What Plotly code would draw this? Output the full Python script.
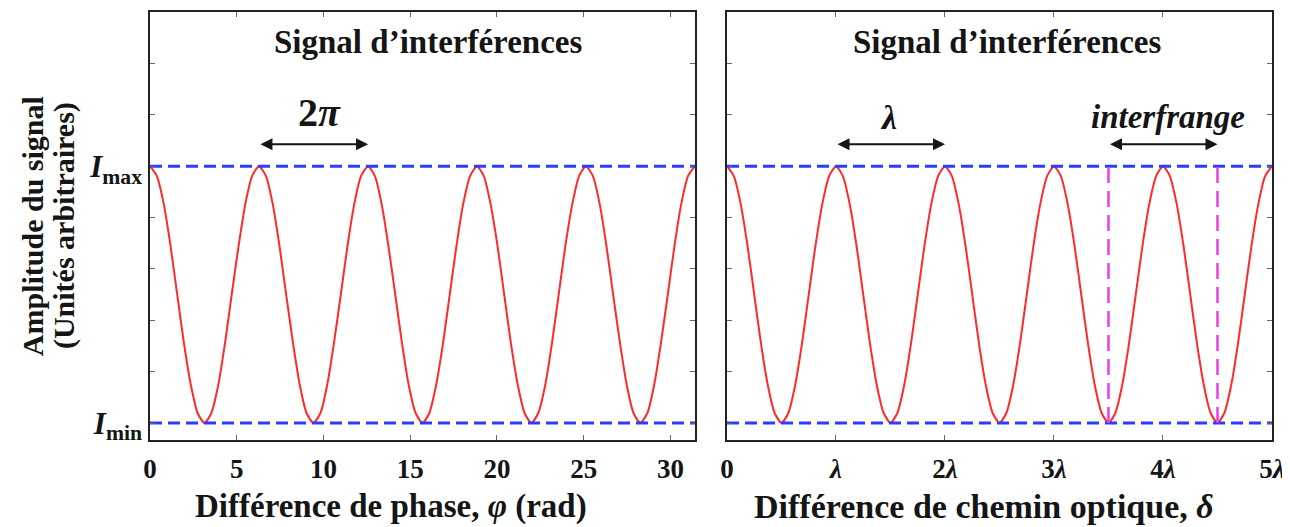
import plotly.graph_objects as go
from plotly.subplots import make_subplots

# --- data ---
phase_rad = [0.00, 0.39, 0.79, 1.18, 1.57, 1.96, 2.36, 2.75, 3.14, 3.53, 3.93, 4.32, 4.71, 5.11, 5.50, 5.89,
             6.28, 6.68, 7.07, 7.46, 7.85, 8.25, 8.64, 9.03, 9.42, 9.82, 10.21, 10.60, 11.00, 11.39, 11.78, 12.17,
             12.57, 12.96, 13.35, 13.74, 14.14, 14.53, 14.92, 15.32, 15.71, 16.10, 16.49, 16.89, 17.28, 17.67, 18.06, 18.46,
             18.85, 19.24, 19.63, 20.03, 20.42, 20.81, 21.21, 21.60, 21.99, 22.38, 22.78, 23.17, 23.56, 23.95, 24.35, 24.74,
             25.13, 25.53, 25.92, 26.31, 26.70, 27.10, 27.49, 27.88, 28.27, 28.67, 29.06, 29.45, 29.85, 30.24, 30.63, 31.02,
             31.42]
delta_lambda = [0.000, 0.062, 0.125, 0.188, 0.250, 0.312, 0.375, 0.438, 0.500, 0.562, 0.625, 0.688, 0.750, 0.812, 0.875, 0.938,
                1.000, 1.062, 1.125, 1.188, 1.250, 1.312, 1.375, 1.438, 1.500, 1.562, 1.625, 1.688, 1.750, 1.812, 1.875, 1.938,
                2.000, 2.062, 2.125, 2.188, 2.250, 2.312, 2.375, 2.438, 2.500, 2.562, 2.625, 2.688, 2.750, 2.812, 2.875, 2.938,
                3.000, 3.062, 3.125, 3.188, 3.250, 3.312, 3.375, 3.438, 3.500, 3.562, 3.625, 3.688, 3.750, 3.812, 3.875, 3.938,
                4.000, 4.062, 4.125, 4.188, 4.250, 4.312, 4.375, 4.438, 4.500, 4.562, 4.625, 4.688, 4.750, 4.812, 4.875, 4.938,
                5.000]
amplitude = [1.000, 0.962, 0.854, 0.691, 0.500, 0.309, 0.146, 0.038, 0.000, 0.038, 0.146, 0.309, 0.500, 0.691, 0.854, 0.962,
             1.000, 0.962, 0.854, 0.691, 0.500, 0.309, 0.146, 0.038, 0.000, 0.038, 0.146, 0.309, 0.500, 0.691, 0.854, 0.962,
             1.000, 0.962, 0.854, 0.691, 0.500, 0.309, 0.146, 0.038, 0.000, 0.038, 0.146, 0.309, 0.500, 0.691, 0.854, 0.962,
             1.000, 0.962, 0.854, 0.691, 0.500, 0.309, 0.146, 0.038, 0.000, 0.038, 0.146, 0.309, 0.500, 0.691, 0.854, 0.962,
             1.000, 0.962, 0.854, 0.691, 0.500, 0.309, 0.146, 0.038, 0.000, 0.038, 0.146, 0.309, 0.500, 0.691, 0.854, 0.962,
             1.000]
I_max = 1.0
I_min = 0.0
left_ticks = [0, 5, 10, 15, 20, 25, 30]
right_ticks = [0, 1, 2, 3, 4, 5]
right_tick_labels = ["<b>0</b>", "<b><i>λ</i></b>", "<b>2<i>λ</i></b>", "<b>3<i>λ</i></b>",
                     "<b>4<i>λ</i></b>", "<b>5<i>λ</i></b>"]
y_ticks = [0.0, 0.2, 0.4, 0.6, 0.8, 1.0, 1.2, 1.4]
y_tick_labels = ["<b><i>I</i></b><sub><b>min</b></sub>", "", "", "", "",
                 "<b><i>I</i></b><sub><b>max</b></sub>", "", ""]
fringe_marks = [3.5, 4.5]

SERIF = "Liberation Serif"
RED = "#ff2a2a"
BLUE = "#2b3bff"
MAGENTA = "#e83ee8"
INK = "#151515"

fig = make_subplots(rows=1, cols=2, horizontal_spacing=0.0285)

fig.add_trace(go.Scatter(x=phase_rad, y=amplitude, mode="lines",
                         line=dict(color=RED, width=2, shape="spline", smoothing=0.6),
                         showlegend=False), row=1, col=1)
fig.add_trace(go.Scatter(x=delta_lambda, y=amplitude, mode="lines",
                         line=dict(color=RED, width=2, shape="spline", smoothing=0.6),
                         showlegend=False), row=1, col=2)

for col, xr in ((1, [0, 31.42]), (2, [0, 5])):
    for lvl in (I_max, I_min):
        fig.add_trace(go.Scatter(x=xr, y=[lvl, lvl], mode="lines",
                                 line=dict(color=BLUE, width=3, dash="12px,6px"),
                                 showlegend=False), row=1, col=col)

for xm in fringe_marks:
    fig.add_trace(go.Scatter(x=[xm, xm], y=[I_min, I_max], mode="lines",
                             line=dict(color=MAGENTA, width=2.5, dash="16px,8px"),
                             showlegend=False), row=1, col=2)

axis_common = dict(showline=True, linecolor="#222", linewidth=1.5, mirror="ticks",
                   ticks="inside", ticklen=5, tickcolor="#666", showgrid=False,
                   zeroline=False)
xtick_font = dict(family=SERIF, size=27, color=INK)

fig.update_xaxes(range=[0, 31.42], tickvals=left_ticks,
                 ticktext=[f"<b>{t}</b>" for t in left_ticks], tickfont=xtick_font,
                 ticklabelstandoff=4, ticklabeloverflow="allow",
                 **axis_common, row=1, col=1)
fig.update_xaxes(range=[0, 5], tickvals=right_ticks, ticktext=right_tick_labels,
                 tickfont=xtick_font, ticklabelstandoff=4, ticklabeloverflow="allow",
                 **axis_common, row=1, col=2)
fig.update_yaxes(range=[-0.066, 1.60], tickvals=y_ticks, ticktext=y_tick_labels,
                 tickfont=dict(family=SERIF, size=31, color=INK), ticklabelstandoff=0,
                 **axis_common, row=1, col=1)
fig.update_yaxes(range=[-0.066, 1.60], tickvals=y_ticks, showticklabels=False,
                 **axis_common, row=1, col=2)

ann = []
for xref, yref, xc in (("x", "y", 16.0), ("x2", "y2", 2.57)):
    ann.append(dict(x=xc, y=1.485, xref=xref, yref=yref, showarrow=False,
                    text="<b>Signal d’interférences</b>",
                    font=dict(family=SERIF, size=33, color=INK)))
ann.append(dict(x=9.75, y=1.21, xref="x", yref="y", showarrow=False,
                text="<b>2<i>π</i></b>", font=dict(family=SERIF, size=40, color=INK)))
ann.append(dict(x=1.48, y=1.19, xref="x2", yref="y2", showarrow=False,
                text="<b><i>λ</i></b>", font=dict(family=SERIF, size=34, color=INK)))
ann.append(dict(x=4.05, y=1.19, xref="x2", yref="y2", showarrow=False,
                text="<b><i>interfrange</i></b>", font=dict(family=SERIF, size=33, color=INK)))
for xref, yref, x0, x1 in (("x", "y", 6.28, 12.57), ("x2", "y2", 1.0, 2.0),
                           ("x2", "y2", 3.5, 4.5)):
    ann.append(dict(x=x1, y=1.085, ax=x0, ay=1.085, xref=xref, yref=yref,
                    axref=xref, ayref=yref, text="", showarrow=True,
                    arrowhead=2, startarrowhead=2, arrowside="end+start",
                    arrowsize=1.2, arrowwidth=2, arrowcolor=INK))
# x-axis titles
for xref, xc, size, txt in (("x", 13.9, 33, "<b>Différence de phase, <i>φ</i> (rad)</b>"),
                            ("x2", 2.355, 34, "<b>Différence de chemin optique, <i>δ</i></b>")):
    ann.append(dict(x=xc, y=-0.156, xref=xref, yref="paper", showarrow=False,
                    xanchor="center", yanchor="middle", text=txt,
                    font=dict(family=SERIF, size=size, color=INK)))
# y-axis title (two lines)
for xp, line in ((-0.105, "Amplitude du signal"), (-0.0766, "(Unités arbitraires)")):
    ann.append(dict(x=xp, y=0.5, xref="paper", yref="paper", showarrow=False,
                    textangle=-90, xanchor="center", yanchor="middle",
                    text=f"<b>{line}</b>",
                    font=dict(family=SERIF, size=30, color=INK)))

fig.update_layout(width=1282, height=519, margin=dict(l=142, r=18, t=2, b=87),
                  paper_bgcolor="white", plot_bgcolor="white", annotations=ann,
                  font=dict(family=SERIF))

fig.write_html("out.html")
